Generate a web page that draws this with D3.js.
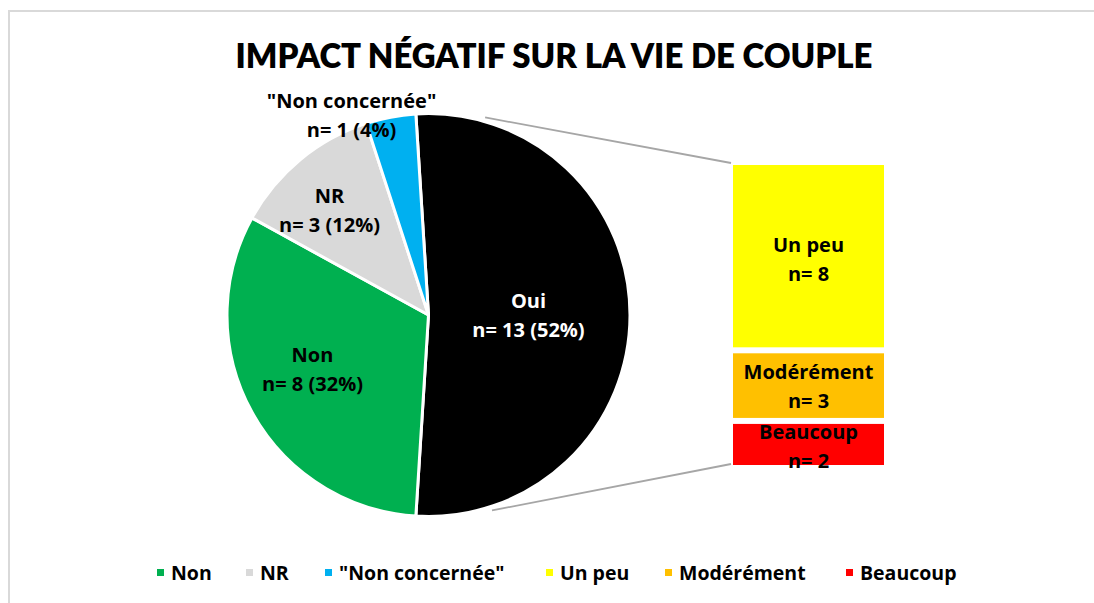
<!DOCTYPE html>
<html><head><meta charset="utf-8">
<script src="https://cdn.jsdelivr.net/npm/d3@7"></script>
<style>body{margin:0;background:#fff;} svg{display:block;font-family:"Open Sans",Lato,sans-serif;}</style>
</head><body>
<svg id="c" width="1094" height="603"></svg>
<script>
const title = "IMPACT NÉGATIF SUR LA VIE DE COUPLE";
const pieLabels = ["Oui", "Non", "NR", "\"Non concernée\""];
const pieValues = [13, 8, 3, 1];
const pieColors = ["#000000", "#00B050", "#D9D9D9", "#00B0F0"];
const barLabels = ["Un peu", "Modérément", "Beaucoup"];
const barValues = [8, 3, 2];
const barColors = ["#FFFF00", "#FFC000", "#FF0000"];
const legendLabels = ["Non", "NR", "\"Non concernée\"", "Un peu", "Modérément", "Beaucoup"];
const legendColors = ["#00B050", "#D9D9D9", "#00B0F0", "#FFFF00", "#FFC000", "#FF0000"];

const svg = d3.select("#c");
// frame
svg.append("rect").attr("x", 9).attr("y", 11).attr("width", 1200).attr("height", 700)
  .attr("fill", "none").attr("stroke", "#d9d9d9").attr("stroke-width", 2);

svg.append("text").attr("x", 554).attr("y", 68).attr("text-anchor", "middle")
  .attr("font-family", "Lato").attr("font-size", 33).attr("font-weight", 800).attr("fill", "#000").text(title);

const cx = 428.5, cy = 315, R = 201.5;
const total = d3.sum(pieValues);
const ouiAngle = pieValues[0] / total * 2 * Math.PI;
const start = Math.PI / 2 - ouiAngle / 2;
const pie = d3.pie().sort(null).startAngle(start).endAngle(start + 2 * Math.PI);
const arcs = pie(pieValues);
const arc = d3.arc().innerRadius(0).outerRadius(R);
const g = svg.append("g").attr("transform", `translate(${cx},${cy})`);
g.selectAll("path").data(arcs).join("path").attr("d", arc)
  .attr("fill", (d, i) => pieColors[i]).attr("stroke", "#fff").attr("stroke-width", 3)
  .attr("stroke-linejoin", "round");

// pie labels
const LS = 20;
const pieLabelPos = [[100, -7], [-116, 47], [-99, -112], [-77, -207]];
const fmtPct = v => Math.round(v / total * 100) + "%";
arcs.forEach((d, i) => {
  const [dx, dy] = pieLabelPos[i];
  const t = g.append("text").attr("text-anchor", "middle").attr("font-size", LS).attr("font-weight", 700)
    .attr("fill", i === 0 ? "#fff" : "#000");
  t.append("tspan").attr("x", dx).attr("y", dy).text(pieLabels[i]);
  t.append("tspan").attr("x", dx).attr("y", dy + 29).text(`n= ${pieValues[i]} (${fmtPct(pieValues[i])})`);
});

// bar
const y = d3.scaleLinear().domain([0, d3.sum(barValues)]).range([162, 468]);
const bx0 = 733, bx1 = 884;
const cum = d3.cumsum([0, ...barValues]);
const bars = barValues.map((v, i) => ({v, i, a: cum[i], b: cum[i + 1]}));
svg.selectAll("rect.bar").data(bars).join("rect").attr("class", "bar")
  .attr("x", bx0).attr("width", bx1 - bx0)
  .attr("y", d => y(d.a) + 3).attr("height", d => y(d.b) - y(d.a) - 6)
  .attr("fill", d => barColors[d.i]);
const barLabelY = [245, 372, 432];
bars.forEach(d => {
  const t = svg.append("text").attr("text-anchor", "middle").attr("font-size", LS).attr("font-weight", 700).attr("fill", "#000");
  const lx = (bx0 + bx1) / 2;
  t.append("tspan").attr("x", lx).attr("y", barLabelY[d.i] + 7).text(barLabels[d.i]);
  t.append("tspan").attr("x", lx).attr("y", barLabelY[d.i] + 36).text(`n= ${d.v}`);
});

// series lines
const a1 = 16 * Math.PI / 180, a2 = 162 * Math.PI / 180, Rl = R + 4;
const lines = [
  [[cx + Rl * Math.sin(a1), cy - Rl * Math.cos(a1)], [bx0 - 2, y(0) + 1]],
  [[cx + Rl * Math.sin(a2), cy - Rl * Math.cos(a2)], [bx0 - 2, y(d3.sum(barValues)) - 4]]
];
svg.selectAll("line.sl").data(lines).join("line").attr("class", "sl")
  .attr("x1", d => d[0][0]).attr("y1", d => d[0][1]).attr("x2", d => d[1][0]).attr("y2", d => d[1][1])
  .attr("stroke", "#a6a6a6").attr("stroke-width", 1.8);

// legend
const legX = [160, 249, 328, 549, 668, 849];
const lg = svg.append("g");
legendLabels.forEach((l, i) => {
  lg.append("rect").attr("x", legX[i] - 3).attr("y", 569).attr("width", 7).attr("height", 7).attr("fill", legendColors[i]);
  lg.append("text").attr("x", legX[i] + 11).attr("y", 580).attr("font-size", 19.5).attr("font-weight", 700)
    .attr("fill", "#000").text(l);
});
</script>
</body></html>
